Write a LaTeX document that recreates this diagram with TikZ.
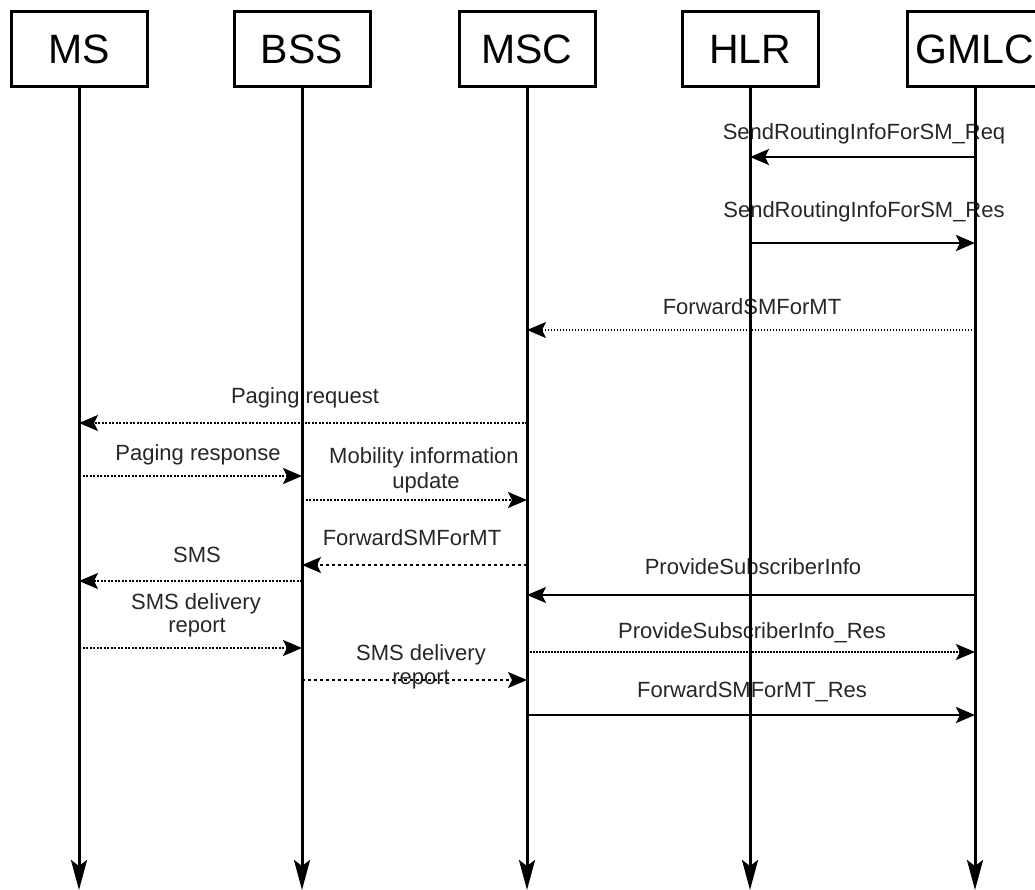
\documentclass[tikz,border=0pt]{standalone}
\usepackage{fontspec}
\setmainfont{Liberation Sans}
\usetikzlibrary{arrows.meta}
\begin{document}
\begin{tikzpicture}[x=1pt,y=-1pt,
  entity/.style={draw, line width=3pt, minimum width=136pt, minimum height=75pt,
    inner sep=0pt, font=\fontsize{41}{41}\selectfont},
  life/.style={line width=3pt, -{Stealth[length=30pt,width=16pt,inset=6pt]}},
  lbl/.style={font=\fontsize{22}{24}\selectfont, anchor=base, inner sep=0pt, text=black!85},
  tip/.style={-{Stealth[length=19pt,width=16pt,inset=4pt]}},
  solidthick/.style={tip, line width=2.5pt},
  solidthin/.style={tip, line width=1.2pt},
  dotthick/.style={tip, line width=2pt, dash pattern=on 2pt off 1.5pt},
  dotthin/.style={tip, line width=1.2pt, dash pattern=on 1.5pt off 1.5pt},
  dotsparse/.style={tip, line width=1.2pt, dash pattern=on 3pt off 3pt},
]
\useasboundingbox (0,0) rectangle (1035,890);

% entities along the top
\node[entity] (ms)   at (79,49)  {MS};
\node[entity] (bss)  at (302,49) {BSS};
\node[entity] (msc)  at (527,49) {MSC};
\node[entity] (hlr)  at (750,49) {HLR};
\node[entity] (gmlc) at (975,49) {GMLC};

% lower ends of the lifelines
\coordinate (msEnd)   at (ms.south |- 0,890);
\coordinate (bssEnd)  at (bss.south |- 0,890);
\coordinate (mscEnd)  at (msc.south |- 0,890);
\coordinate (hlrEnd)  at (hlr.south |- 0,890);
\coordinate (gmlcEnd) at (gmlc.south |- 0,890);

% message labels
\node[lbl] (l1)  at (864,140) {SendRoutingInfoForSM\_Req};
\node[lbl] (l2)  at (864,218) {SendRoutingInfoForSM\_Res};
\node[lbl] (l3)  at (752,315) {ForwardSMForMT};
\node[lbl] (l4)  at (305,403) {Paging request};
\node[lbl] (l5)  at (198,460) {Paging response};
\node[lbl] (l6a) at (424,463) {Mobility information};
\node[lbl] (l6b) at (426,488) {update};
\node[lbl] (l7)  at (412,545) {ForwardSMForMT};
\node[lbl] (l8)  at (197,562) {SMS};
\node[lbl] (l9a) at (196,609) {SMS delivery};
\node[lbl] (l9b) at (197,632) {report};
\node[lbl] (l10a) at (421,660) {SMS delivery};
\node[lbl] (l10b) at (421,684) {report};
\node[lbl] (l11) at (753,574) {ProvideSubscriberInfo};
\node[lbl] (l12) at (752,638) {ProvideSubscriberInfo\_Res};
\node[lbl] (l13) at (752,697) {ForwardSMForMT\_Res};

% messages
\draw[solidthick] (gmlc.south |- 0,157) -- (hlr.south |- 0,157);
\draw[solidthick] (hlr.south |- 0,243) -- (gmlc.south |- 0,243);
\draw[dotthin]    (gmlc.south |- 0,330) -- (msc.south |- 0,330);
\draw[dotthick]   (msc.south |- 0,423) -- (ms.south |- 0,423);
\draw[dotthick]   (ms.south |- 0,476) -- (bss.south |- 0,476);
\draw[dotthick]   (bss.south |- 0,500) -- (msc.south |- 0,500);
\draw[dotsparse]  (msc.south |- 0,565) -- (bss.south |- 0,565);
\draw[dotthick]   (bss.south |- 0,581) -- (ms.south |- 0,581);
\draw[dotthick]   (ms.south |- 0,648) -- (bss.south |- 0,648);
\draw[dotsparse]  (bss.south |- 0,680) -- (msc.south |- 0,680);
\draw[solidthin]  (gmlc.south |- 0,595) -- (msc.south |- 0,595);
\draw[dotthin]    (msc.south |- 0,652) -- (gmlc.south |- 0,652);
\draw[solidthick] (msc.south |- 0,715) -- (gmlc.south |- 0,715);

% lifelines
\draw[life] (ms.south)   -- (msEnd);
\draw[life] (bss.south)  -- (bssEnd);
\draw[life] (msc.south)  -- (mscEnd);
\draw[life] (hlr.south)  -- (hlrEnd);
\draw[life] (gmlc.south) -- (gmlcEnd);
\end{tikzpicture}
\end{document}
